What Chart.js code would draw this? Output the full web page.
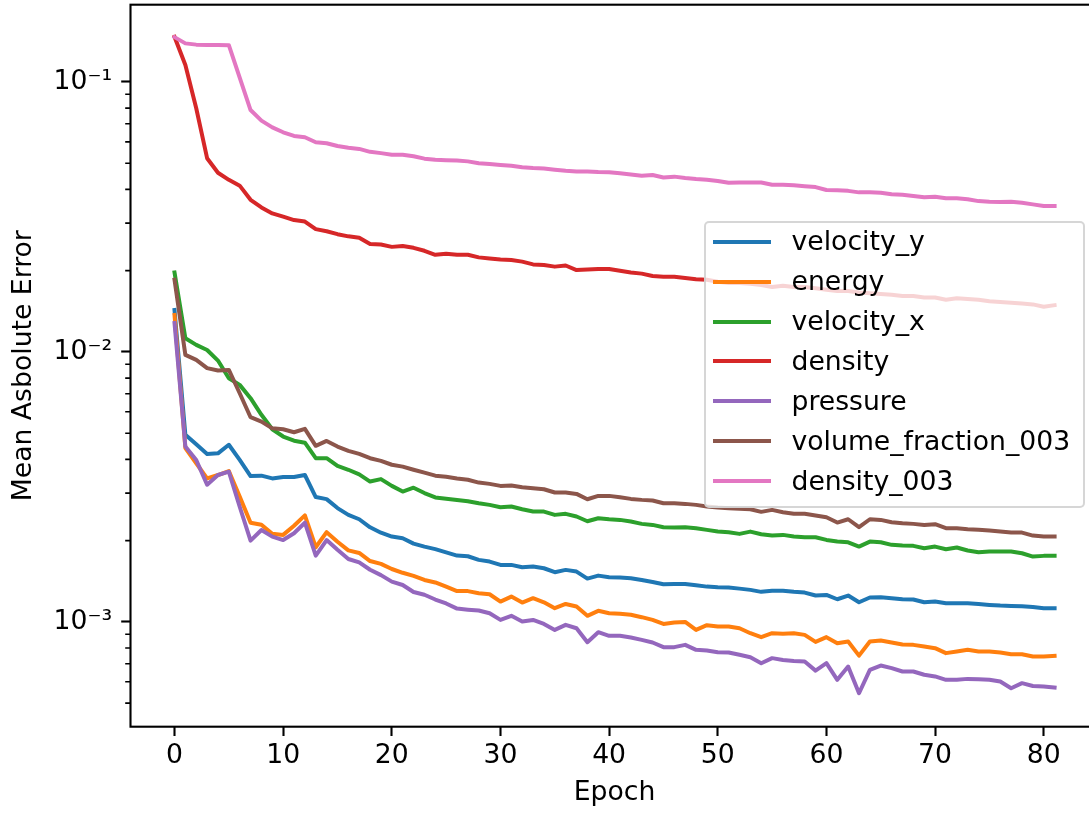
<!DOCTYPE html>
<html>
<head>
<meta charset="utf-8">
<script src="https://cdn.jsdelivr.net/npm/chart.js@4.4.1/dist/chart.umd.min.js"></script>
<style>
  html, body { margin: 0; padding: 0; background: #fff; overflow: hidden; width: 1089px; height: 814px; }
  #wrap { position: absolute; left: 0; top: 0; width: 1110px; height: 814px; }
  #legend { position: absolute; left: 703.5px; top: 221px; width: 381px; height: 287px; box-sizing: border-box;
            border: 2.5px solid rgba(204,204,204,0.8); border-radius: 5px; background: rgba(255,255,255,0.8);
            font-family: 'DejaVu Sans', sans-serif; font-size: 26.67px; color: #000; }
  #legend .rows { position: absolute; left: 0; top: -1.2px; }
  #legend .row { height: 39.9px; display: flex; align-items: center; white-space: nowrap; line-height: 26.67px; }
  #legend .handle { width: 58px; height: 4px; margin-left: 7px; margin-right: 21px; }
</style>
</head>
<body>
<div id="wrap"><canvas id="c" width="1110" height="814"></canvas></div>
<div id="legend"><div class="rows" id="rows"></div></div>
<script>
const epochs = [0,1,2,3,4,5,6,7,8,9,10,11,12,13,14,15,16,17,18,19,20,21,22,23,24,25,26,27,28,29,30,31,32,33,34,35,36,37,38,39,40,41,42,43,44,45,46,47,48,49,50,51,52,53,54,55,56,57,58,59,60,61,62,63,64,65,66,67,68,69,70,71,72,73,74,75,76,77,78,79,80,81];

const seriesNames = ['velocity_y', 'energy', 'velocity_x', 'density', 'pressure', 'volume_fraction_003', 'density_003'];
const seriesColors = ['#1f77b4', '#ff7f0e', '#2ca02c', '#d62728', '#9467bd', '#8c564b', '#e377c2'];

const velocityY = [0.0143, 0.00493, 0.00455, 0.00419, 0.00421, 0.00453, 0.00398, 0.00347, 0.00348, 0.0034, 0.00344, 0.00344, 0.0035, 0.0029, 0.00285, 0.00264, 0.00249, 0.0024, 0.00224, 0.00214, 0.00207, 0.00204, 0.00195, 0.0019, 0.00186, 0.00181, 0.00176, 0.00175,
  0.001697, 0.001673, 0.001626, 0.001626, 0.001594, 0.001603, 0.001580, 0.001528, 0.001558, 0.001536, 0.001447, 0.001484, 0.001463, 0.001459, 0.001451, 0.001430, 0.001406, 0.001378, 0.001382, 0.001382, 0.001367, 0.001351, 0.001344, 0.001340, 0.001328, 0.001314, 0.001292, 0.001303, 0.001303, 0.001292, 0.001284, 0.001252, 0.001259, 0.001213, 0.001252, 0.001182, 0.001231, 0.001234, 0.001224, 0.001213, 0.001210, 0.001182, 0.001189, 0.001172, 0.001172, 0.001172, 0.001165, 0.001156, 0.001149, 0.001146, 0.001143, 0.001136, 0.001124, 0.001124];

const energy = [0.0137, 0.0044, 0.00387, 0.0034, 0.0035, 0.00362, 0.00291, 0.00233, 0.00229, 0.00212, 0.0021, 0.00227, 0.00248, 0.00189, 0.00215, 0.00198, 0.00184, 0.0018, 0.00168, 0.00164, 0.00157, 0.00152, 0.00148, 0.00143, 0.0014, 0.00135, 0.0013, 0.0013,
  0.001277, 0.001266, 0.001189, 0.001241, 0.001179, 0.001224, 0.001182, 0.001124, 0.001165, 0.001140, 0.001053, 0.001099, 0.001077, 0.001071, 0.001062, 0.001041, 0.001017, 0.000983, 0.000995, 0.001000, 0.000934, 0.000972, 0.000961, 0.000961, 0.000947, 0.000908, 0.000878, 0.000908, 0.000903, 0.000908, 0.000895, 0.000843, 0.000878, 0.000834, 0.000846, 0.000750, 0.000846, 0.000853, 0.000839, 0.000824, 0.000822, 0.000810, 0.000799, 0.000766, 0.000777, 0.000788, 0.000777, 0.000777, 0.000770, 0.000759, 0.000759, 0.000744, 0.000744, 0.000748];

const velocityX = [0.0197, 0.01124, 0.01062, 0.01017, 0.00929, 0.00799, 0.00755, 0.00674, 0.00585, 0.00517, 0.00486, 0.00469, 0.00461, 0.00404, 0.00404, 0.00378, 0.00366, 0.00352, 0.00331, 0.00338, 0.00319, 0.00304, 0.00314, 0.003, 0.00289, 0.00286, 0.00283, 0.0028,
  0.002752, 0.002713, 0.002660, 0.002674, 0.002614, 0.002563, 0.002563, 0.002491, 0.002513, 0.002456, 0.002360, 0.002421, 0.002400, 0.002387, 0.002353, 0.002307, 0.002287, 0.002242, 0.002236, 0.002242, 0.002223, 0.002192, 0.002160, 0.002148, 0.002118, 0.002160, 0.002112, 0.002088, 0.002100, 0.002070, 0.002059, 0.002059, 0.002012, 0.001984, 0.001972, 0.001901, 0.001984, 0.001972, 0.001929, 0.001918, 0.001913, 0.001875, 0.001901, 0.001859, 0.001886, 0.001838, 0.001812, 0.001822, 0.001822, 0.001822, 0.001796, 0.001746, 0.001756, 0.001756];

const density = [0.147, 0.1156, 0.0799, 0.0522, 0.0461, 0.0434, 0.0413, 0.0366, 0.0343, 0.0326, 0.0317, 0.0308, 0.0304, 0.0285, 0.0280, 0.0273, 0.0268, 0.0265, 0.0251, 0.0250, 0.0245, 0.0247, 0.0243, 0.0237, 0.0229, 0.0231, 0.0229, 0.0229,
  0.0224, 0.0222, 0.0220, 0.0219, 0.0216, 0.0211, 0.0210, 0.0207, 0.0209, 0.0201, 0.0202, 0.0203, 0.0203, 0.0200, 0.0197, 0.0195, 0.0191, 0.0190, 0.0190, 0.0188, 0.0186, 0.0185, 0.0182, 0.0180, 0.0180, 0.0179, 0.0177, 0.0174, 0.0176, 0.0174, 0.0174, 0.0172, 0.0170, 0.0168, 0.0168, 0.0166, 0.0165, 0.0164, 0.0163, 0.0161, 0.0161, 0.0159, 0.0159, 0.0156, 0.0158, 0.0157, 0.0156, 0.0154, 0.0153, 0.0152, 0.0151, 0.0150, 0.0147, 0.0149];

const pressure = [0.0128, 0.00446, 0.00398, 0.00322, 0.0035, 0.0036, 0.00267, 0.002, 0.00219, 0.00207, 0.00201, 0.00213, 0.00233, 0.00176, 0.00201, 0.00185, 0.00171, 0.00166, 0.00156, 0.00149, 0.00141, 0.00137, 0.00129, 0.00126, 0.00121, 0.00117, 0.00112, 0.00111,
  0.001102, 0.001077, 0.001017, 0.001053, 0.001003, 0.001017, 0.000983, 0.000934, 0.000975, 0.000947, 0.000841, 0.000916, 0.000888, 0.000888, 0.000875, 0.000858, 0.000839, 0.000806, 0.000806, 0.000822, 0.000788, 0.000783, 0.000772, 0.000770, 0.000755, 0.000740, 0.000703, 0.000734, 0.000723, 0.000717, 0.000713, 0.000660, 0.000703, 0.000610, 0.000683, 0.000544, 0.000664, 0.000689, 0.000674, 0.000655, 0.000655, 0.000637, 0.000628, 0.000610, 0.000610, 0.000615, 0.000613, 0.000610, 0.000601, 0.000568, 0.000593, 0.000579, 0.000576, 0.000571];

const volumeFraction003 = [0.0185, 0.00975, 0.00934, 0.00871, 0.00853, 0.00858, 0.00703, 0.00573, 0.00552, 0.00521, 0.00517, 0.00504, 0.00519, 0.00449, 0.00468, 0.00446, 0.0043, 0.00419, 0.00404, 0.00395, 0.00382, 0.00376, 0.00366, 0.00357, 0.00348, 0.00345, 0.0034, 0.00336,
  0.003281, 0.003245, 0.003190, 0.003199, 0.003154, 0.003127, 0.003100, 0.003014, 0.003014, 0.002979, 0.002847, 0.002929, 0.002929, 0.002896, 0.002855, 0.002831, 0.002815, 0.002752, 0.002752, 0.002736, 0.002713, 0.002674, 0.002652, 0.002637, 0.002622, 0.002614, 0.002556, 0.002600, 0.002548, 0.002513, 0.002513, 0.002477, 0.002442, 0.002333, 0.002400, 0.002242, 0.002400, 0.002387, 0.002340, 0.002320, 0.002307, 0.002287, 0.002300, 0.002223, 0.002223, 0.002204, 0.002192, 0.002179, 0.002160, 0.002142, 0.002142, 0.002088, 0.002070, 0.002070];

const density003 = [0.1466, 0.139, 0.1375, 0.1372, 0.137, 0.1368, 0.1038, 0.0787, 0.0719, 0.0679, 0.0651, 0.0631, 0.0624, 0.0598, 0.0593, 0.0579, 0.0571, 0.0565, 0.0551, 0.0545, 0.0538, 0.0538, 0.0531, 0.0520, 0.0515, 0.0513, 0.0512, 0.0508,
  0.0500, 0.0497, 0.0493, 0.0489, 0.0483, 0.0480, 0.0478, 0.0473, 0.0469, 0.0466, 0.0466, 0.0464, 0.0463, 0.0459, 0.0454, 0.0449, 0.0452, 0.0443, 0.0446, 0.0441, 0.0437, 0.0434, 0.0430, 0.0423, 0.0424, 0.0424, 0.0424, 0.0416, 0.0416, 0.0414, 0.0411, 0.0408, 0.0398, 0.0397, 0.0395, 0.0390, 0.0390, 0.0389, 0.0384, 0.0382, 0.0378, 0.0374, 0.0376, 0.0371, 0.0371, 0.0368, 0.0362, 0.0360, 0.0359, 0.0360, 0.0357, 0.0352, 0.0347, 0.0347];

const xTicks = [0, 10, 20, 30, 40, 50, 60, 70, 80];
const yTicks = [0.001, 0.01, 0.1];
const yTickLabels = ['10\u207B\u00B3', '10\u207B\u00B2', '10\u207B\u00B9'];
const yMinorTicks = [0.0005, 0.0006, 0.0007, 0.0008, 0.0009, 0.002, 0.003, 0.004, 0.005, 0.006, 0.007, 0.008, 0.009, 0.02, 0.03, 0.04, 0.05, 0.06, 0.07, 0.08, 0.09];

const allSeries = [velocityY, energy, velocityX, density, pressure, volumeFraction003, density003];

const FONT = { family: "'DejaVu Sans', sans-serif", size: 26.67 };
const W = 1110, H = 814;
const AREA = { left: 130.5, right: 1098.6, top: 4.7, bottom: 726.7 };

const frame = {
  id: 'frame',
  afterDatasetsDraw(chart) {
    const { ctx, chartArea: a, scales: { y } } = chart;
    ctx.save();
    ctx.strokeStyle = '#000';
    ctx.lineWidth = 1.6;
    ctx.beginPath();
    for (const v of yMinorTicks) {
      const py = y.getPixelForValue(v);
      ctx.moveTo(a.left - 5.3, py);
      ctx.lineTo(a.left, py);
    }
    ctx.stroke();
    ctx.lineWidth = 2.1;
    ctx.strokeRect(a.left, a.top, a.right - a.left, a.bottom - a.top);
    ctx.restore();
  }
};

const datasets = seriesNames.map((name, i) => ({
  label: name,
  data: epochs.map((e, k) => ({ x: e, y: allSeries[i][k] })),
  borderColor: seriesColors[i],
  backgroundColor: seriesColors[i],
  borderWidth: 4,
  borderJoinStyle: 'round',
  borderCapStyle: 'square',
  pointRadius: 0,
  tension: 0,
  fill: false,
  order: seriesNames.length - 1 - i
}));

new Chart(document.getElementById('c'), {
  type: 'line',
  data: { datasets },
  options: {
    responsive: false,
    animation: false,
    devicePixelRatio: 1,
    layout: { padding: { left: 0, top: AREA.top, right: W - AREA.right, bottom: 0 } },
    plugins: { legend: { display: false }, tooltip: { enabled: false } },
    scales: {
      x: {
        type: 'linear', min: -4.05, max: 85.05, bounds: 'data',
        afterBuildTicks: s => { s.ticks = xTicks.map(v => ({ value: v })); },
        afterFit: s => { s.height = H - AREA.bottom; s.paddingLeft = 0; s.paddingRight = 0; },
        grid: { drawOnChartArea: false, drawTicks: true, tickLength: 9.3, tickWidth: 2.1, tickColor: '#000' },
        border: { display: false },
        ticks: { color: '#000', font: FONT, padding: 4, maxRotation: 0, autoSkip: false },
        title: { display: true, text: 'Epoch', color: '#000', font: FONT, padding: { top: 0, bottom: 4.5 } }
      },
      y: {
        type: 'logarithmic', min: 0.000409, max: 0.1933, bounds: 'data',
        afterBuildTicks: s => { s.ticks = yTicks.map(v => ({ value: v, major: true })); },
        afterFit: s => { s.width = AREA.left; s.paddingTop = 0; s.paddingBottom = 0; },
        grid: { drawOnChartArea: false, drawTicks: true, tickLength: 9.3, tickWidth: 2.1, tickColor: '#000' },
        border: { display: false },
        ticks: {
          color: '#000', font: FONT, padding: 9, autoSkip: false,
          callback: (v) => { const k = yTicks.indexOf(v); return k >= 0 ? yTickLabels[k] : ''; }
        },
        title: { display: true, text: 'Mean Asbolute Error', color: '#000', font: FONT, padding: { top: 7.8, bottom: 0 } }
      }
    }
  },
  plugins: [frame]
});

const rows = document.getElementById('rows');
seriesNames.forEach((name, i) => {
  const r = document.createElement('div');
  r.className = 'row';
  const h = document.createElement('span');
  h.className = 'handle';
  h.style.background = seriesColors[i];
  const t = document.createElement('span');
  t.textContent = name;
  r.appendChild(h); r.appendChild(t);
  rows.appendChild(r);
});
</script>
</body>
</html>
